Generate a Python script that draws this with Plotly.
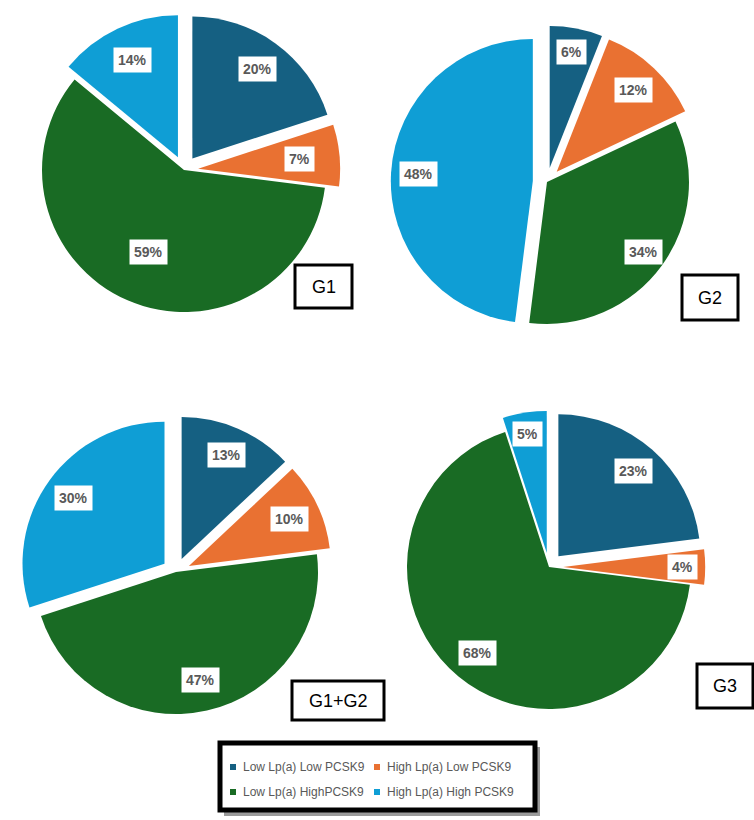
import math
import plotly.graph_objects as go

W, H = 754, 820

# ---------------- data ----------------
categories = ["Low Lp(a) Low PCSK9", "High Lp(a) Low PCSK9",
              "Low Lp(a) HighPCSK9", "High Lp(a) High PCSK9"]
groups = ["G1", "G2", "G1+G2", "G3"]
g1_values = [20, 7, 59, 14]
g2_values = [6, 12, 34, 48]
g1g2_values = [13, 10, 47, 30]
g3_values = [23, 4, 68, 5]
all_values = [g1_values, g2_values, g1g2_values, g3_values]

# ---------------- style / layout ----------------
colors = ["#156082", "#E97132", "#196B24", "#0F9ED5"]
slice_pull = [0.1, 0.1, 0.0, 0.1]
R = 142  # pie radius in px
centers_px = [(184, 170), (547, 182), (176, 572), (549, 567)]
label_frac = [[0.78, 0.72, 0.63, 0.76],
              [0.83, 0.79, 0.84, 0.81],
              [0.80, 0.78, 0.78, 0.79],
              [0.80, 0.84, 0.79, 0.85]]
group_boxes_px = [(295, 265, 352, 308), (682, 275, 738, 320),
                  (292, 681, 384, 720), (697, 664, 753, 708)]
legend_box_px = (220, 743, 535, 810)
legend_pos_px = [(233, 767), (377, 767), (233, 792), (377, 792)]


def px(x):
    return x / W


def py(y):
    return 1 - y / H


fig = go.Figure()
annotations = []
shapes = []

half = R * (1 + max(slice_pull))
for gi, vals in enumerate(all_values):
    cx, cy = centers_px[gi]
    fig.add_trace(go.Pie(
        labels=categories,
        values=vals,
        sort=False,
        direction="clockwise",
        rotation=0,
        pull=slice_pull,
        textinfo="none",
        hoverinfo="label+percent",
        marker=dict(colors=colors, line=dict(width=0)),
        showlegend=False,
        domain=dict(x=[px(cx - half), px(cx + half)],
                    y=[py(cy + half), py(cy - half)]),
        name=groups[gi],
    ))
    total = sum(vals)
    cum = 0
    for i, v in enumerate(vals):
        mid = (cum + v / 2) / total * 2 * math.pi
        cum += v
        dx, dy = math.sin(mid), -math.cos(mid)
        vx = cx + slice_pull[i] * R * dx
        vy = cy + slice_pull[i] * R * dy
        lx = vx + label_frac[gi][i] * R * dx
        ly = vy + label_frac[gi][i] * R * dy
        annotations.append(dict(
            x=px(lx), y=py(ly), xref="paper", yref="paper",
            text=f"{round(100 * v / total)}%", showarrow=False,
            bgcolor="white", borderpad=4,
            font=dict(family="Liberation Sans, Arial", size=14,
                      color="#595959", weight="bold"),
            xanchor="center", yanchor="middle",
        ))
    # group label box
    x0, y0, x1, y1 = group_boxes_px[gi]
    shapes.append(dict(type="rect", xref="paper", yref="paper",
                       x0=px(x0), x1=px(x1), y0=py(y1), y1=py(y0),
                       line=dict(color="black", width=3), fillcolor="white",
                       layer="above"))
    annotations.append(dict(
        x=px((x0 + x1) / 2), y=py((y0 + y1) / 2), xref="paper", yref="paper",
        text=groups[gi], showarrow=False,
        font=dict(family="Liberation Sans, Arial", size=18, color="black"),
        xanchor="center", yanchor="middle",
    ))

# legend
lx0, ly0, lx1, ly1 = legend_box_px
shapes.append(dict(type="rect", xref="paper", yref="paper",
                   x0=px(lx0 + 4), x1=px(lx1 + 5), y0=py(ly1 + 6), y1=py(ly0 + 4),
                   line=dict(width=0), fillcolor="#9a9a9a", layer="above"))
shapes.append(dict(type="rect", xref="paper", yref="paper",
                   x0=px(lx0), x1=px(lx1), y0=py(ly1), y1=py(ly0),
                   line=dict(color="black", width=5), fillcolor="white",
                   layer="above"))
for i, cat in enumerate(categories):
    mx, my = legend_pos_px[i]
    shapes.append(dict(type="rect", xref="paper", yref="paper",
                       x0=px(mx - 3), x1=px(mx + 3), y0=py(my + 3), y1=py(my - 3),
                       line=dict(width=0), fillcolor=colors[i], layer="above"))
    annotations.append(dict(
        x=px(mx + 8), y=py(my), xref="paper", yref="paper",
        text=cat, showarrow=False,
        font=dict(family="Liberation Sans, Arial", size=12, color="#595959"),
        xanchor="left", yanchor="middle",
    ))

fig.update_layout(
    width=W, height=H,
    margin=dict(l=0, r=0, t=0, b=0),
    paper_bgcolor="white", plot_bgcolor="white",
    annotations=annotations, shapes=shapes,
    showlegend=False,
)

fig.write_html("out.html")
